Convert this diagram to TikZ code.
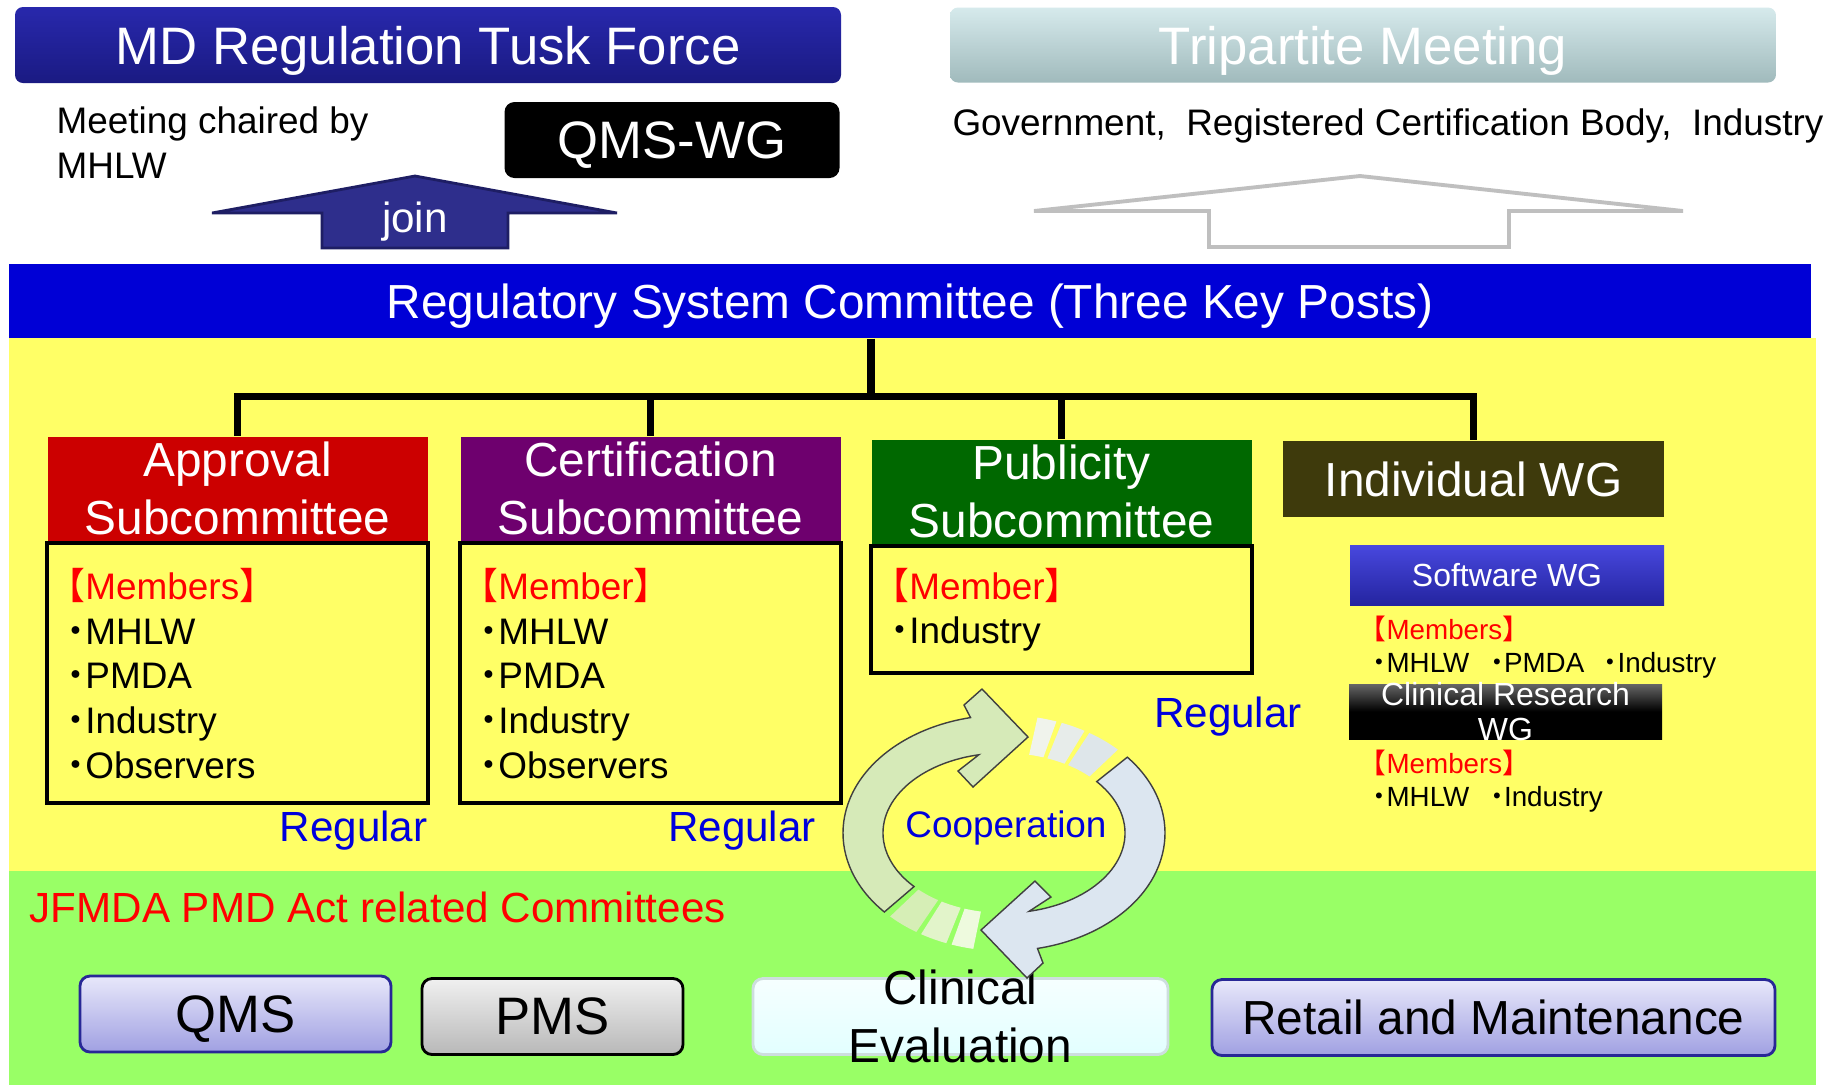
\documentclass[tikz,border=0pt]{standalone}
\usepackage{fontspec}
\setmainfont{Liberation Sans}
\newfontfamily\jp{Noto Sans CJK JP}
\usetikzlibrary{positioning}

\definecolor{mdtop}{RGB}{40,40,172}
\definecolor{mdbot}{RGB}{26,26,130}
\definecolor{triptop}{RGB}{214,234,236}
\definecolor{tripbot}{RGB}{160,186,188}
\definecolor{joinfill}{RGB}{46,46,140}
\definecolor{joinline}{RGB}{30,30,100}
\definecolor{rscblue}{RGB}{0,0,214}
\definecolor{yel}{RGB}{255,255,102}
\definecolor{grn}{RGB}{153,255,102}
\definecolor{aprred}{RGB}{204,0,0}
\definecolor{cerpurple}{RGB}{110,0,110}
\definecolor{pubgreen}{RGB}{0,104,0}
\definecolor{iwgolive}{RGB}{62,58,12}
\definecolor{swtop}{RGB}{72,72,222}
\definecolor{swbot}{RGB}{36,36,160}
\definecolor{regblue}{RGB}{0,0,220}
\definecolor{redtxt}{RGB}{255,0,0}
\definecolor{lavtop}{RGB}{232,232,250}
\definecolor{lavbot}{RGB}{160,160,226}
\definecolor{lavline}{RGB}{40,40,150}
\definecolor{pmstop}{RGB}{240,240,240}
\definecolor{pmsbot}{RGB}{184,184,184}
\definecolor{cetop}{RGB}{246,255,255}
\definecolor{cebot}{RGB}{226,255,255}
\definecolor{celine}{RGB}{205,222,222}
\definecolor{coopgreen}{RGB}{214,234,184}
\definecolor{coopblue}{RGB}{220,230,240}

% half-width brackets and dot
\newcommand{\lbk}{\makebox[.5em][r]{\jp 【}}
\newcommand{\rbk}{\makebox[.5em][l]{\jp 】}}
\newcommand{\mdot}{\makebox[.5em][c]{\jp ・}}

\begin{document}
\begin{tikzpicture}[x=0.1mm,y=-0.1mm,
    every node/.style={inner sep=0pt},
    fA/.style={font=\fontsize{15}{18}\selectfont},
    fB/.style={font=\fontsize{13.6}{16.5}\selectfont},
    fC/.style={font=\fontsize{12}{14}\selectfont},
    fD/.style={font=\fontsize{10.5}{12.7}\selectfont},
    fE/.style={font=\fontsize{9.1}{10.2}\selectfont},
    fF/.style={font=\fontsize{7.9}{9.4}\selectfont},
    head/.style={fB,text=white,align=center,minimum width=38mm,minimum height=10.4mm},
    members/.style={fD,draw,line width=1.2pt,fill=yel,align=left,text width=34.1mm,inner xsep=2mm},
    wgmembers/.style={fF,align=left,anchor=west},
    tree/.style={line width=2pt},
    regular/.style={fC,text=regblue},
    bottombox/.style={fA,rounded corners=1mm,line width=0.8pt,minimum height=7.6mm},
    ring/.style={draw=black!75,line width=0.4pt}]

  \fill[white] (0,0) rectangle (1840,1086);
  \useasboundingbox (0,0) rectangle (1840,1086);

  % top part
  \node[fA,text=white,rounded corners=0.8mm,top color=mdtop,bottom color=mdbot,text depth=0pt,
        minimum width=82.6mm,minimum height=7.6mm] (md) at (428,45) {MD Regulation Tusk Force};
  \node[fA,text=white,rounded corners=0.8mm,top color=triptop,bottom color=tripbot,text depth=0pt,
        minimum width=82.6mm,minimum height=7.5mm] (trip) at (1363,45) {Tripartite Meeting};
  \node[fD,align=left,anchor=north west] (chair) at (56,106) {Meeting chaired by\\MHLW};
  \node[fA,text=white,fill=black,rounded corners=1mm,text depth=0pt,
        minimum width=33.5mm,minimum height=7.6mm] (qmswg) at (672,140) {QMS-WG};
  \node[fD] (parties) at (1388,126) {Government,\ \ Registered Certification Body,\ \ Industry};

  \draw[fill=joinfill,draw=joinline,line width=0.8pt]
    (415,176) -- (617,213) -- (508,213) -- (508,248) -- (322,248) -- (322,213) -- (212,213) -- cycle;
  \node[fC,text=white] (join) at (415,222) {join};
  \draw[fill=white,draw=black!25,line width=1.1pt]
    (1360,176) -- (1683,211) -- (1509,211) -- (1509,247) -- (1209,247) -- (1209,211) -- (1034,211) -- cycle;

  % backgrounds
  \fill[yel] (9,338) rectangle (1816,871);
  \fill[grn] (9,871) rectangle (1816,1085);

  \node[fB,text=white,fill=rscblue,text depth=0pt,minimum width=180.2mm,minimum height=7.4mm] (rsc) at (910,301)
    {Regulatory System Committee (Three Key Posts)};

  % subcommittees
  \node[head,fill=aprred] (apr) at (237.5,488.5) {Approval\\Subcommittee};
  \node[head,fill=cerpurple] (cer) at (650.5,488.5) {Certification\\Subcommittee};
  \node[head,fill=pubgreen] (pub) at (1061.5,491.5) {Publicity\\Subcommittee};
  \node[head,fill=iwgolive,minimum width=38.1mm,minimum height=7.6mm] (iwg) at (1473.5,479) {Individual WG};

  \node[members,minimum height=26mm,below=0pt of apr] (aprm)
    {{\color{redtxt}\lbk Members\rbk}\\\mdot MHLW\\\mdot PMDA\\\mdot Industry\\\mdot Observers};
  \node[members,minimum height=26mm,below=0pt of cer] (cerm)
    {{\color{redtxt}\lbk Member\rbk}\\\mdot MHLW\\\mdot PMDA\\\mdot Industry\\\mdot Observers};
  \node[members,minimum height=12.7mm,below=0pt of pub] (pubm)
    {{\color{redtxt}\lbk Member\rbk}\\\mdot Industry};

  \coordinate (hub) at (871,396);
  \draw[tree] (hub |- rsc.south) -- (hub);
  \draw[tree] (apr.north) |- (iwg.north |- hub) -- (iwg.north);
  \draw[tree] (cer.north) -- (cer.north |- hub);
  \draw[tree] (pub.north) -- (pub.north |- hub);

  \node[regular] (reg1) at (353.5,831) {Regular};
  \node[regular] (reg2) at (742,831) {Regular};
  \node[regular] (reg3) at (1228,717) {Regular};

  % individual WGs
  \node[fE,text=white,top color=swtop,bottom color=swbot,
        minimum width=31.4mm,minimum height=6mm] (sw) at (1507,575) {Software WG};
  \node[wgmembers] (swm) at (1372,647)
    {{\color{redtxt}\lbk Members\rbk}\\\mdot MHLW\hspace{.75em}\mdot PMDA\hspace{.7em}\mdot Industry};
  \node[top color=black!60,bottom color=black,middle color=black,
        minimum width=31.3mm,minimum height=5.5mm] (cr) at (1505.5,711.5) {};
  \node[fE,text=white,align=center] (crtxt) at (cr.center) {Clinical Research\\WG};
  \node[wgmembers] (crm) at (1372,781)
    {{\color{redtxt}\lbk Members\rbk}\\\mdot MHLW\hspace{.75em}\mdot Industry};

  % JFMDA committees
  \node[fC,text=redtxt,anchor=west] (jfmda) at (29,907) {JFMDA PMD Act related Committees};
  \node[bottombox,top color=lavtop,bottom color=lavbot,draw=lavline,text depth=0pt,minimum width=31.1mm] (qms) at (235.5,1014) {QMS};
  \node[bottombox,top color=pmstop,bottom color=pmsbot,draw=black,minimum width=26.1mm] (pms) at (552.5,1016.5) {PMS};
  \node[bottombox,top color=cetop,bottom color=cebot,draw=celine,minimum width=41.5mm] (ce) at (960.5,1016.5) {};
  \node[fB,align=center] (cetxt) at (ce.center) {Clinical\\Evaluation};
  \node[bottombox,fB,top color=lavtop,bottom color=lavbot,draw=lavline,minimum width=56.3mm] (ret) at (1493.5,1017.5) {Retail and Maintenance};

  % cooperation cycle
  \begin{scope}[shift={(1004,833)}]
    \foreach \a/\b/\c in {123/135/{214,238,182},111/121/{226,244,202},101/109/{238,250,222},
                          282/289/{240,243,236},291/300/{231,236,234},302/315/{222,230,234}}{
      \definecolor{tailc}{RGB}{\c}
      \fill[tailc] (\a:161 and 118) arc[start angle=\a,end angle=\b,x radius=161,y radius=118]
        -- (\b:121 and 80) arc[start angle=\b,end angle=\a,x radius=121,y radius=80] -- cycle;
    }
    \draw[ring,fill=coopgreen] (138:161 and 118) arc[start angle=138,end angle=258,x radius=161,y radius=118]
      -- (-40,-128) -- (-22,-144) -- (24,-96) -- (-31,-46) -- (-46,-62)
      -- (258:121 and 80) arc[start angle=258,end angle=138,x radius=121,y radius=80] -- cycle;
    \draw[ring,fill=coopblue] (-40:161 and 118) arc[start angle=-40,end angle=78,x radius=161,y radius=118]
      -- (39,130) -- (23,145) -- (-23,97) -- (31,48) -- (47,64)
      -- (78:121 and 80) arc[start angle=78,end angle=-40,x radius=121,y radius=80] -- cycle;
  \end{scope}
  \node[fD,text=regblue] (coop) at (1006,828) {Cooperation};

\end{tikzpicture}
\end{document}
